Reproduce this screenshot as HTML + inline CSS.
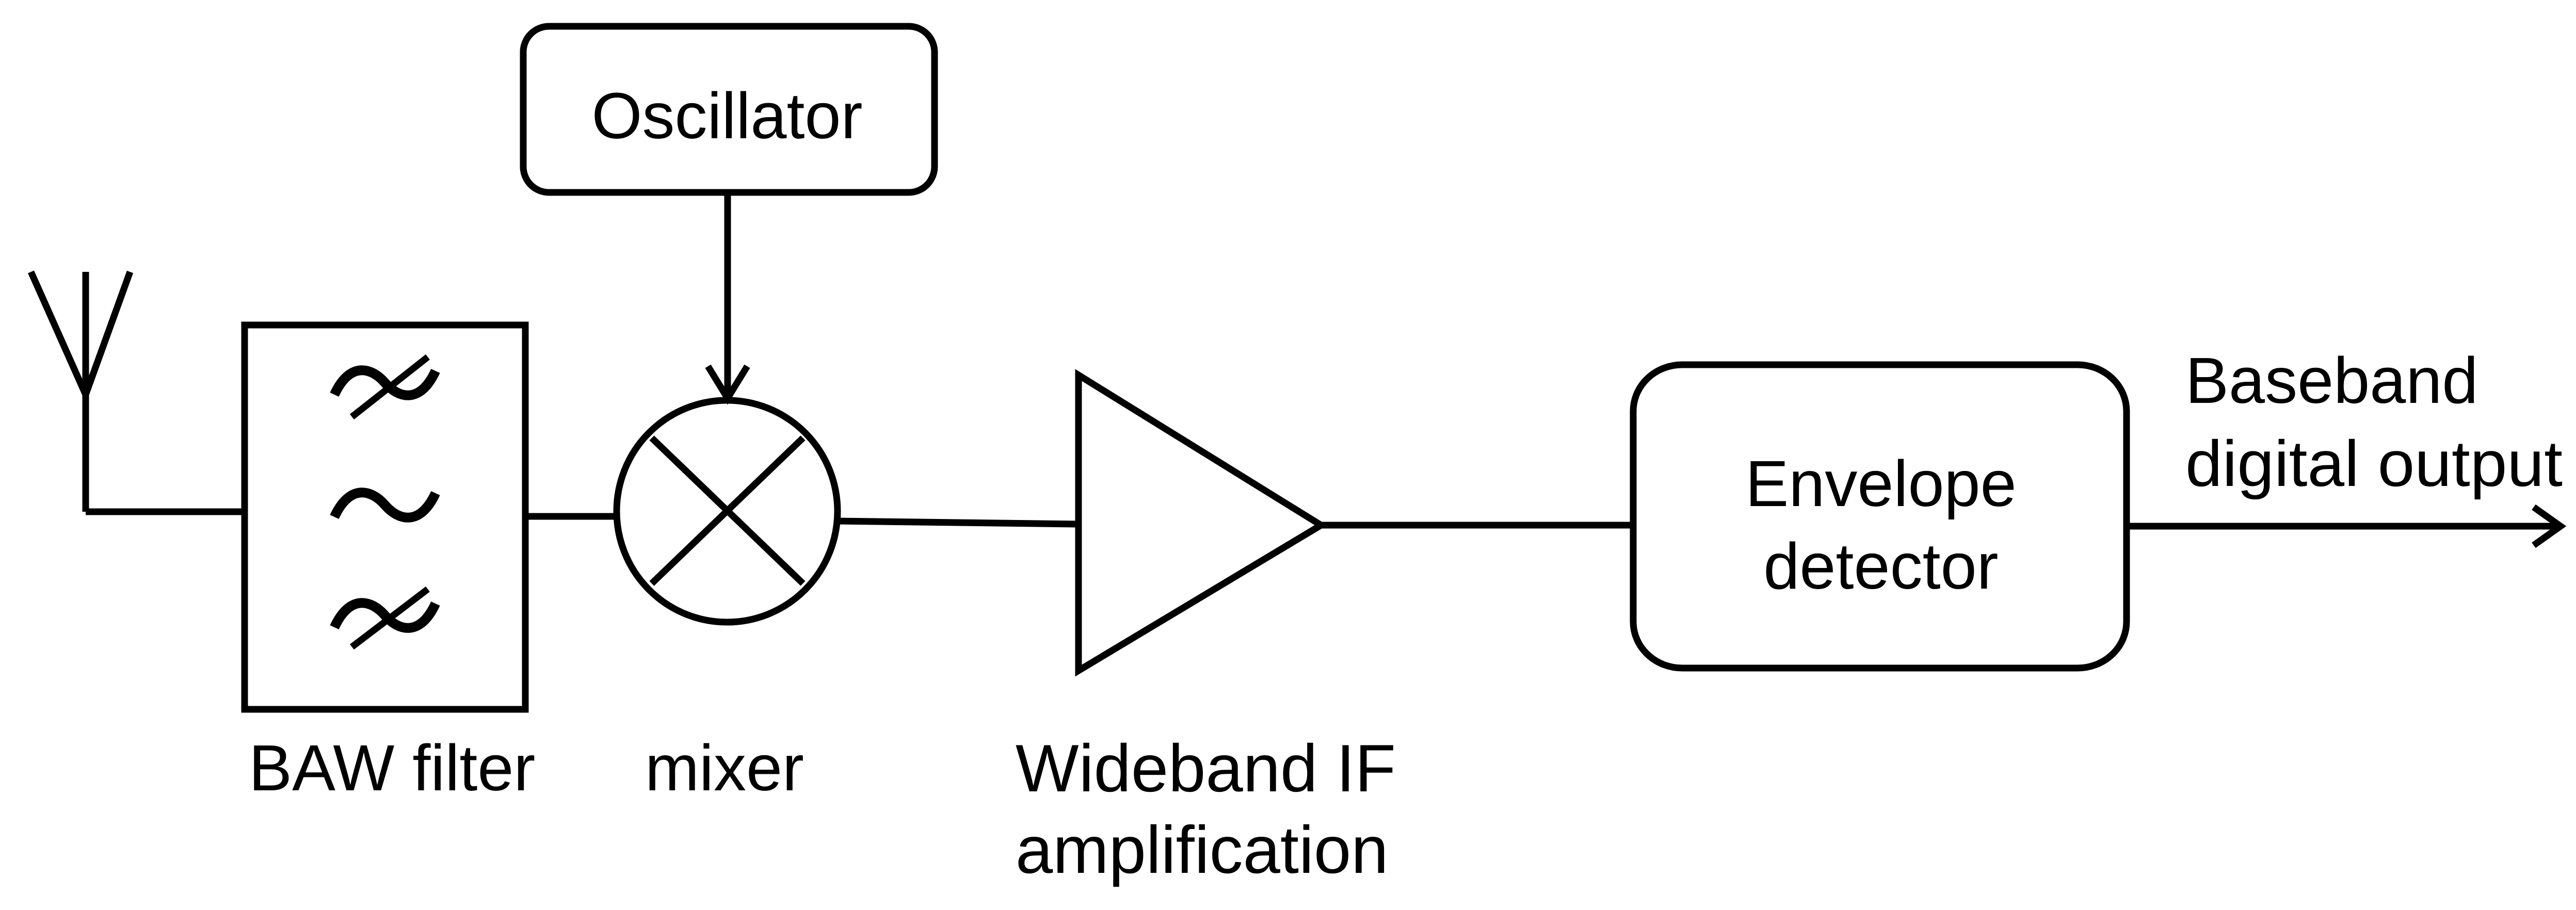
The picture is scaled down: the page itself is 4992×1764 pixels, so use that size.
<!DOCTYPE html>
<html><head><meta charset="utf-8"><style>
html,body{margin:0;padding:0;background:#fff;}
svg{display:block;}
text{font-family:"Liberation Sans",Arial,sans-serif;fill:#000;}
</style></head><body>
<svg width="4992" height="1764" viewBox="0 0 4992 1764" xmlns="http://www.w3.org/2000/svg">
<g fill="none" stroke="#000" stroke-width="13" stroke-linecap="butt" stroke-linejoin="miter">
  <!-- antenna -->
  <polyline points="60,527 166,765 252,527"/>
  <line x1="166" y1="527" x2="166" y2="992"/>
  <polyline points="166,992 474,992"/>
  <!-- filter box -->
  <rect x="474" y="630" width="544" height="745"/>
  <!-- symbols -->
  <path d="M648,765 C678,700 720,712 746,742 C772,772 814,784 844,719" stroke-width="19"/>
  <line x1="682" y1="808" x2="829" y2="692" stroke-width="13"/>
  <path d="M648,1002 C678,937 720,949 746,979 C772,1009 814,1021 844,956" stroke-width="19"/>
  <path d="M648,1216 C678,1151 720,1163 746,1193 C772,1223 814,1235 844,1170" stroke-width="19"/>
  <line x1="682" y1="1254" x2="829" y2="1142" stroke-width="13"/>
  <!-- filter to mixer -->
  <line x1="1018" y1="1001" x2="1196" y2="1001"/>
  <!-- oscillator -->
  <rect x="1014" y="51" width="797" height="322" rx="50" ry="50"/>
  <line x1="1410" y1="373" x2="1410" y2="770"/>
  <polyline points="1372,710 1410,772 1448,710"/>
  <!-- mixer -->
  <ellipse cx="1409" cy="991" rx="214" ry="215"/>
  <line x1="1263" y1="849" x2="1556" y2="1131"/>
  <line x1="1556" y1="849" x2="1263" y2="1131"/>
  <!-- mixer to amp -->
  <line x1="1623" y1="1010" x2="2090" y2="1016"/>
  <!-- amplifier -->
  <polygon points="2090,727 2090,1300 2560,1018"/>
  <line x1="2560" y1="1018" x2="3165" y2="1018"/>
  <!-- envelope detector -->
  <rect x="3165" y="707" width="956" height="588" rx="95" ry="90"/>
  <line x1="4121" y1="1020" x2="4960" y2="1020"/>
  <polyline points="4910,983 4962,1020 4910,1057"/>
</g>
<text x="1409" y="268" font-size="126" text-anchor="middle">Oscillator</text>
<text x="482" y="1532" font-size="126">BAW filter</text>
<text x="1250" y="1532" font-size="126">mixer</text>
<text x="1968" y="1534" font-size="130">Wideband IF</text>
<text x="1968" y="1692" font-size="130">amplification</text>
<text x="3645" y="981" font-size="126" text-anchor="middle">Envelope</text>
<text x="3645" y="1141" font-size="126" text-anchor="middle">detector</text>
<text x="4235" y="781" font-size="126">Baseband</text>
<text x="4235" y="942" font-size="126" textLength="731" lengthAdjust="spacingAndGlyphs">digital output</text>
</svg>
</body></html>
